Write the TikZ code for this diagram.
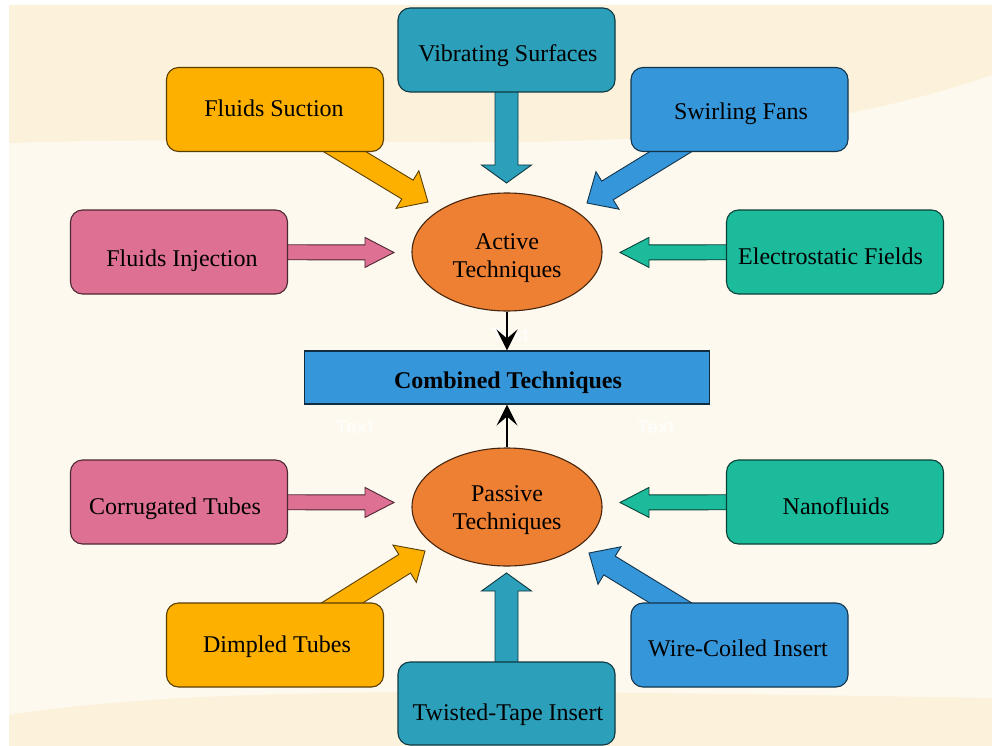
\documentclass[tikz,border=0pt]{standalone}
\usepackage{fontspec}
\setmainfont{Liberation Serif}
\newfontfamily\labelsans{Liberation Sans}
\usetikzlibrary{calc,arrows.meta,shapes.geometric}
\definecolor{cteal}{RGB}{44,160,186}
\definecolor{cyel}{RGB}{253,176,0}
\definecolor{cblue}{RGB}{54,150,218}
\definecolor{cpink}{RGB}{221,112,147}
\definecolor{cgreen}{RGB}{28,187,156}
\definecolor{corange}{RGB}{238,128,52}
\definecolor{bgdark}{RGB}{252,242,219}
\definecolor{bglight}{RGB}{253,249,238}
\pgfdeclarelayer{bglayer}
\pgfdeclarelayer{arrowlayer}
\pgfsetlayers{bglayer,arrowlayer,main}
% #1 horizontal shift (x2), #2 baseline drop, #3 text
\newcommand\bt[3]{\raisebox{-#2}[0pt][0pt]{\hspace*{#1}#3}}
\tikzset{
  box/.style={rectangle, rounded corners=12pt, fill=#1, draw=#1!35!black, line width=1.1pt,
    minimum width=217pt, minimum height=84pt, inner sep=2pt, text=black,
    font=\fontsize{24pt}{28pt}\selectfont},
  oval/.style={ellipse, fill=corange, draw=corange!30!black, line width=1.1pt,
    minimum width=190pt, minimum height=118pt, inner sep=0pt,
    font=\fontsize{24pt}{28pt}\selectfont},
  combo/.style={rectangle, fill=cblue, draw=cblue!30!black, line width=1.1pt,
    minimum width=405pt, minimum height=53pt, inner sep=0pt,
    font=\fontsize{24pt}{28pt}\selectfont\bfseries},
  thinarrow/.style={-{Stealth[length=21pt,width=21pt,inset=9pt]}, line width=1.3pt, black},
  faint/.style={text=white, text opacity=0.75, font=\labelsans\bfseries\fontsize{19pt}{20pt}\selectfont}
}
% #1 start, #2 tip, #3 shaft half width, #4 head half width, #5 head length, #6 colour
\newcommand\fatarrow[6]{%
  \path (#2) coordinate (faT) ($(#2)!#5!(#1)$) coordinate (faH) (#1) coordinate (faS);
  \filldraw[fill=#6, draw=#6!35!black, line width=0.9pt, line join=miter]
    ($(faS)!#3!90:(faT)$) -- ($(faH)!#3!90:(faT)$) -- ($(faH)!#4!90:(faT)$) -- (faT)
    -- ($(faH)!#4!-90:(faT)$) -- ($(faH)!#3!-90:(faT)$) -- ($(faS)!#3!-90:(faT)$) -- cycle;
}
\begin{document}
\begin{tikzpicture}[x=1pt,y=-1pt]
\useasboundingbox (0,0) rectangle (992,746);
\begin{pgfonlayer}{bglayer}
  \fill[white] (0,0) rectangle (992,746);
  \fill[bglight] (9,5) rectangle (992,746);
  \fill[bgdark] (9,5) -- (992,5) -- (992,75) .. controls (700,175) and (400,130) .. (9,143) -- cycle;
  \fill[bgdark] (9,715) .. controls (200,685) and (500,690) .. (992,698) -- (992,746) -- (9,746) -- cycle;
  \node[faint] (t1) at (510,335) {Text};
  \node[faint] (t2) at (355,427) {Text};
  \node[faint] (t3) at (656,427) {Text};
\end{pgfonlayer}

% nodes
\node[box=cteal] (vib) at (506.5,50) {\bt{3pt}{12pt}{Vibrating Surfaces}};
\node[box=cyel] (suc) at (275,109.5) {\bt{-2pt}{7pt}{Fluids Suction}};
\node[box=cblue] (swf) at (739.5,109.5) {\bt{3pt}{10pt}{Swirling Fans}};
\node[box=cpink] (inj) at (179,252) {\bt{6pt}{14pt}{Fluids Injection}};
\node[box=cgreen] (ele) at (835,252) {\bt{-9pt}{12pt}{Electrostatic Fields}};
\node[box=cpink] (cor) at (179,502) {\bt{-8pt}{12pt}{Corrugated Tubes}};
\node[box=cgreen] (nan) at (835,502) {\bt{2pt}{12pt}{Nanofluids}};
\node[box=cyel] (dim) at (275,645) {\bt{4pt}{7pt}{Dimpled Tubes}};
\node[box=cteal, minimum height=83pt] (twi) at (506.5,703.5) {\bt{3pt}{17pt}{Twisted-Tape Insert}};
\node[box=cblue] (wir) at (739.5,645) {\bt{-3pt}{11pt}{Wire-Coiled Insert}};
\node[oval] (act) at (507,252) {\bt{0pt}{12pt}{\begin{tabular}{@{}c@{}}Active\\Techniques\end{tabular}}};
\node[oval] (pas) at (507,507) {\bt{0pt}{9.5pt}{\begin{tabular}{@{}c@{}}Passive\\Techniques\end{tabular}}};
\node[combo] (com) at (507,377.5) {\bt{2pt}{11pt}{Combined Techniques}};

% tips
\coordinate (tvib) at (506.5,183);
\coordinate (tsuc) at (428,202);
\coordinate (tswf) at (587,203);
\coordinate (tinj) at (394,252.5);
\coordinate (tele) at (620,252.5);
\coordinate (tcor) at (394,502.5);
\coordinate (tnan) at (620,502.5);
\coordinate (tdim) at (425,551);
\coordinate (twir) at (589,553);
\coordinate (ttwi) at (506.5,573);

\begin{pgfonlayer}{arrowlayer}
  \fatarrow{vib.center}{tvib}{11.5pt}{25pt}{18pt}{cteal}
  \fatarrow{twi.center}{ttwi}{11.5pt}{25pt}{18pt}{cteal}
  \fatarrow{suc.center}{tsuc}{11pt}{22pt}{24pt}{cyel}
  \fatarrow{dim.center}{tdim}{11pt}{22pt}{24pt}{cyel}
  \fatarrow{swf.center}{tswf}{11pt}{22pt}{24pt}{cblue}
  \fatarrow{wir.center}{twir}{11pt}{22pt}{24pt}{cblue}
  \fatarrow{inj.center}{tinj}{7.5pt}{15pt}{29pt}{cpink}
  \fatarrow{cor.center}{tcor}{7.5pt}{15pt}{29pt}{cpink}
  \fatarrow{ele.center}{tele}{7.5pt}{15pt}{29pt}{cgreen}
  \fatarrow{nan.center}{tnan}{7.5pt}{15pt}{29pt}{cgreen}
\end{pgfonlayer}

\draw[thinarrow] (act) -- (com);
\draw[thinarrow] (pas) -- (com);
\end{tikzpicture}
\end{document}
